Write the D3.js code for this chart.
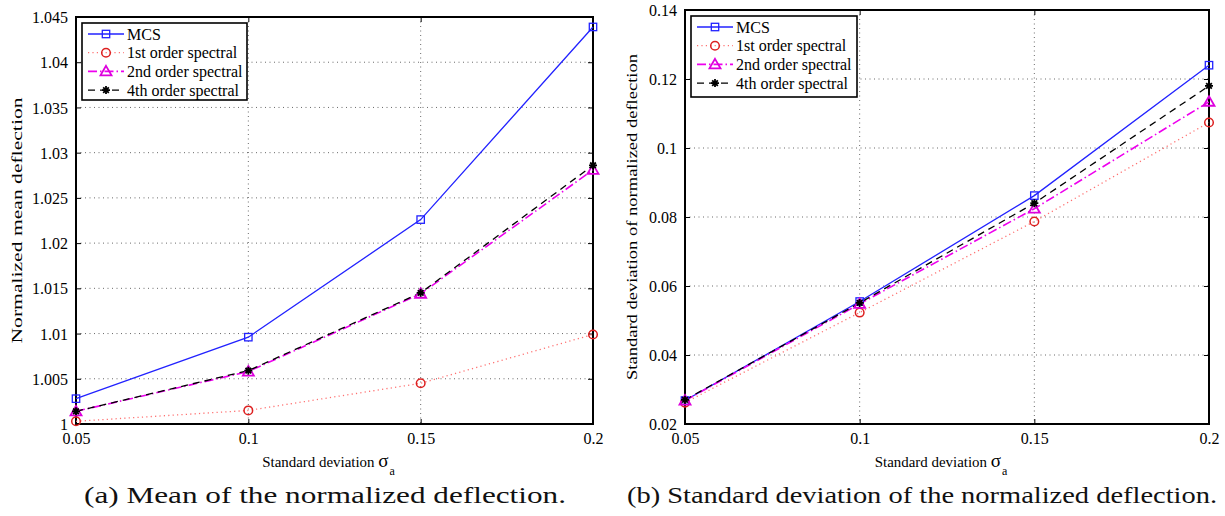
<!DOCTYPE html>
<html><head><meta charset="utf-8">
<script src="https://cdn.jsdelivr.net/npm/d3@7"></script>
<style>body{margin:0;background:#fff}svg{display:block}text{font-family:"Liberation Serif","Times New Roman",serif}</style>
</head><body>
<svg id="c" width="1225" height="516"></svg>
<script>
const sigma = [0.05, 0.1, 0.15, 0.2];
const seriesNames = ["MCS", "1st order spectral", "2nd order spectral", "4th order spectral"];
// (a) mean of normalized deflection
const meanMCS = [1.0028, 1.0096, 1.0226, 1.0439];
const mean1st = [1.0003, 1.0015, 1.0045, 1.0099];
const mean2nd = [1.0014, 1.0058, 1.0144, 1.0281];
const mean4th = [1.0014, 1.0059, 1.0145, 1.0286];
// (b) std of normalized deflection
const stdMCS = [0.0268, 0.0555, 0.0862, 0.1240];
const std1st = [0.0262, 0.0523, 0.0787, 0.1074];
const std2nd = [0.0268, 0.0548, 0.0824, 0.1134];
const std4th = [0.0270, 0.0551, 0.0840, 0.1180];
const xTicks = [0.05, 0.1, 0.15, 0.2];
const xTickLabels = ["0.05", "0.1", "0.15", "0.2"];
const meanTicks = [1, 1.005, 1.01, 1.015, 1.02, 1.025, 1.03, 1.035, 1.04, 1.045];
const meanTickLabels = ["1", "1.005", "1.01", "1.015", "1.02", "1.025", "1.03", "1.035", "1.04", "1.045"];
const stdTicks = [0.02, 0.04, 0.06, 0.08, 0.1, 0.12, 0.14];
const stdTickLabels = ["0.02", "0.04", "0.06", "0.08", "0.1", "0.12", "0.14"];

const styles = [
  {line:"#2222ff", dash:null, w:1.3, marker:"square", mc:"#2222ff"},
  {line:"#ff7070", dash:"1.2,3.2", w:1.3, marker:"circle", mc:"#dd2020"},
  {line:"#ee00ee", dash:"9,3,1.5,3", w:1.6, marker:"triangle", mc:"#dd00dd"},
  {line:"#000000", dash:"7,5", w:1.3, marker:"star", mc:"#000000"}
];

const svg = d3.select("#c");

function marker(g, type, x, y, color){
  if(type==="square"){
    g.append("rect").attr("x",x-3.7).attr("y",y-3.7).attr("width",7.4).attr("height",7.4)
     .attr("fill","none").attr("stroke",color).attr("stroke-width",1.3);
  } else if(type==="circle"){
    g.append("circle").attr("cx",x).attr("cy",y).attr("r",4.3)
     .attr("fill","none").attr("stroke",color).attr("stroke-width",1.5);
  } else if(type==="triangle"){
    g.append("path").attr("d",`M${x},${y-5.5}L${x+5.5},${y+4}L${x-5.5},${y+4}Z`)
     .attr("fill","none").attr("stroke",color).attr("stroke-width",1.8);
  } else if(type==="star"){
    const r=4;
    let d="";
    for(let i=0;i<4;i++){const a=i*Math.PI/4;d+=`M${x-r*Math.cos(a)},${y-r*Math.sin(a)}L${x+r*Math.cos(a)},${y+r*Math.sin(a)}`;}
    g.append("path").attr("d",d).attr("stroke",color).attr("stroke-width",1.8);
  }
}

function panel(opt){
  const {left,right,top,bottom,yDomain,yTicks,yTickLabels,data,legend,ylabel,ylabelX,caption,capX,capW} = opt;
  const x = d3.scaleLinear().domain([0.05,0.2]).range([left,right]);
  const y = d3.scaleLinear().domain(yDomain).range([bottom,top]);
  const g = svg.append("g");
  const grid = g.append("g").attr("stroke","#444").attr("stroke-width",0.8).attr("stroke-dasharray","1,3.5");
  xTicks.forEach(t=>{ if(t>0.05 && t<0.2) grid.append("line").attr("x1",x(t)).attr("x2",x(t)).attr("y1",top).attr("y2",bottom); });
  yTicks.forEach((t,i)=>{ if(i>0 && i<yTicks.length-1) grid.append("line").attr("x1",left).attr("x2",right).attr("y1",y(t)).attr("y2",y(t)); });
  const ax = d3.axisBottom(x).tickValues(xTicks).tickFormat((d,i)=>xTickLabels[i]).tickSize(-5).tickPadding(10);
  const axg = g.append("g").attr("transform",`translate(0,${bottom})`).call(ax);
  const ay = d3.axisLeft(y).tickValues(yTicks).tickFormat((d,i)=>yTickLabels[i]).tickSize(-5).tickPadding(8);
  const ayg = g.append("g").attr("transform",`translate(${left},0)`).call(ay);
  const axt = g.append("g").attr("transform",`translate(0,${top})`).call(d3.axisTop(x).tickValues(xTicks).tickFormat("").tickSize(-5));
  const ayr = g.append("g").attr("transform",`translate(${right},0)`).call(d3.axisRight(y).tickValues(yTicks).tickFormat("").tickSize(-5));
  [axg,ayg,axt,ayr].forEach(a=>{a.select(".domain").remove(); a.selectAll("line").attr("stroke","#000").attr("stroke-width",1);});
  axg.selectAll("text").attr("font-size",16).attr("fill","#000");
  ayg.selectAll("text").attr("font-size",16).attr("fill","#000");
  axg.selectAll("text").attr("dy","0.71em").attr("y",9);
  ayg.selectAll("text").attr("dy","0.35em");
  g.append("rect").attr("x",left).attr("y",top).attr("width",right-left).attr("height",bottom-top)
   .attr("fill","none").attr("stroke","#000").attr("stroke-width",2);
  const lineGen = d3.line().x((d,i)=>x(sigma[i])).y(d=>y(d));
  data.forEach((s,k)=>{
    const st=styles[k];
    g.append("path").attr("d",lineGen(s)).attr("fill","none").attr("stroke",st.line)
     .attr("stroke-width",st.w).attr("stroke-dasharray",st.dash);
  });
  data.forEach((s,k)=>{
    const st=styles[k];
    s.forEach((v,i)=>marker(g,st.marker,x(sigma[i]),y(v),st.mc));
  });
  const lg = g.append("g");
  lg.append("rect").attr("x",legend.x).attr("y",legend.y).attr("width",legend.w).attr("height",legend.h)
    .attr("fill","#fff").attr("stroke","#000").attr("stroke-width",1.6);
  seriesNames.forEach((nm,k)=>{
    const st=styles[k];
    const yy = legend.y + 11 + k*18.7;
    lg.append("line").attr("x1",legend.x+6).attr("x2",legend.x+42).attr("y1",yy).attr("y2",yy)
      .attr("stroke",st.line).attr("stroke-width",st.w).attr("stroke-dasharray",st.dash);
    marker(lg,st.marker,legend.x+24,yy,st.mc);
    lg.append("text").attr("x",legend.x+45).attr("y",yy).attr("dy","0.35em").attr("font-size",16).text(nm);
  });
  const xl = g.append("text").attr("x",(left+right)/2 - 6).attr("y",467).attr("text-anchor","middle")
    .attr("font-size",15);
  xl.append("tspan").text("Standard deviation ").attr("textLength",116).attr("lengthAdjust","spacingAndGlyphs");
  xl.append("tspan").text("σ").attr("font-size",19);
  xl.append("tspan").text("a").attr("font-size",12).attr("dx",1).attr("dy",8);
  g.append("text").attr("transform",`translate(${ylabelX},${(top+bottom)/2}) rotate(-90)`)
    .attr("text-anchor","middle").attr("font-size",15).attr("textLength",ylabel.len).attr("lengthAdjust","spacingAndGlyphs").text(ylabel.text);
  g.append("text").attr("x",capX).attr("y",503).attr("font-size",24).attr("textLength",capW)
    .attr("lengthAdjust","spacingAndGlyphs").attr("fill","#111").text(caption);
}

panel({left:76,right:593,top:17,bottom:424,yDomain:[1,1.045],yTicks:meanTicks,yTickLabels:meanTickLabels,
  data:[meanMCS,mean1st,mean2nd,mean4th],legend:{x:82,y:23,w:165,h:77},
  ylabel:{text:"Normalized mean deflection",len:246},ylabelX:22,
  caption:"(a) Mean of the normalized deflection.",capX:84,capW:482});
panel({left:685,right:1209,top:10,bottom:424,yDomain:[0.02,0.14],yTicks:stdTicks,yTickLabels:stdTickLabels,
  data:[stdMCS,std1st,std2nd,std4th],legend:{x:691,y:16,w:166,h:81},
  ylabel:{text:"Standard deviation of normalized deflection",len:326},ylabelX:637,
  caption:"(b) Standard deviation of the normalized deflection.",capX:627,capW:590});
</script>
</body></html>
